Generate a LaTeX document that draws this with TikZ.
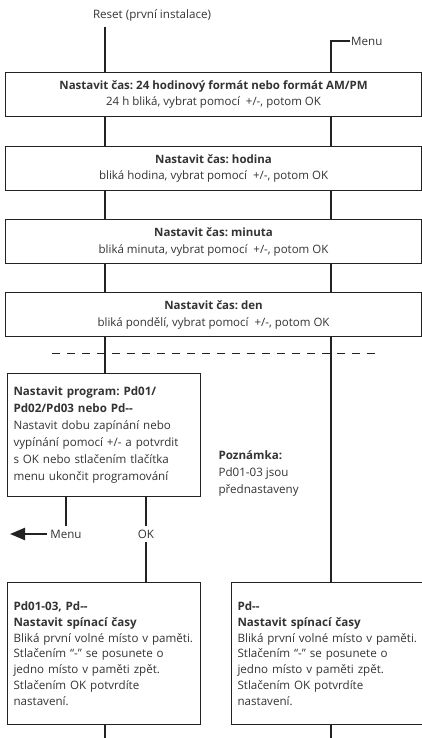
\documentclass[tikz,border=0pt]{standalone}
\usepackage{fontspec}
\setmainfont{Open Sans}
\usetikzlibrary{arrows.meta,positioning}
\definecolor{ink}{HTML}{333333}
\definecolor{wire}{HTML}{222222}

\begin{document}
\frenchspacing
\begin{tikzpicture}[x=1pt, y=-1pt,
  widebox/.style={draw=wire, line width=1.1pt, minimum width=416pt, minimum height=44pt,
    anchor=north west, align=center, text=ink, inner sep=0pt,
    font=\fontsize{11.5}{16.5}\selectfont},
  stepbox/.style={draw=wire, line width=1.1pt, minimum width=193pt, anchor=north west,
    align=left, text=ink, inner xsep=6pt, inner ysep=0pt, text width=181pt,
    font=\fontsize{11.6}{15.8}\selectfont},
  tag/.style={text=ink, font=\fontsize{11.6}{16}\selectfont},
  flow/.style={draw=wire, line width=2.3pt},
  exitarrow/.style={-{Triangle[length=15pt, width=12pt]}, draw=wire, line width=2.3pt}
]
\useasboundingbox (0,0) rectangle (422,738);
\coordinate (lx) at (105,0);
\coordinate (rx) at (331,0);

\node[tag] (reset) at (152,15) {Reset (první instalace)};
\node[tag, anchor=west, inner sep=1pt] (menu) at (350,41) {Menu};

\node[widebox] (box1) at (5,72) {\textbf{Nastavit čas: 24 hodinový formát nebo formát AM/PM}\\
  24 h bliká, vybrat pomocí \ +/-, potom OK};
\node[widebox, below=29pt of box1] (box2) {\textbf{Nastavit čas: hodina}\\
  bliká hodina, vybrat pomocí \ +/-, potom OK};
\node[widebox, below=28pt of box2] (box3) {\textbf{Nastavit čas: minuta}\\
  bliká minuta, vybrat pomocí \ +/-, potom OK};
\node[widebox, below=28pt of box3] (box4) {\textbf{Nastavit čas: den}\\
  bliká pondělí, vybrat pomocí \ +/-, potom OK};

\node[stepbox, minimum height=123pt, font=\fontsize{11.6}{17}\selectfont] (box5) at (7,373)
  {\textbf{Nastavit program: Pd01/}\\ \textbf{Pd02/Pd03 nebo Pd-{}-}\\
  Nastavit dobu zapínání nebo\\ vypínání pomocí +/- a potvrdit\\
  s OK nebo stlačením tlačítka\\ menu ukončit programování};
\node[tag, anchor=west, align=left, font=\fontsize{11.6}{17}\selectfont] (note) at (215,473)
  {\textbf{Poznámka:}\\ Pd01-03 jsou\\ přednastaveny};

\node[tag] (back) at (66,534) {Menu};
\node[tag] (ok) at (146,534) {OK};
\coordinate (exit) at (10,534);

\node[stepbox, minimum height=142pt] (box6) at (7,582)
  {\textbf{Pd01-03, Pd-{}-}\\ \textbf{Nastavit spínací časy}\\
  Bliká první volné místo v paměti.\\ Stlačením “-” se posunete o\\
  jedno místo v paměti zpět.\\ Stlačením OK potvrdíte\\ nastavení.};
\node[stepbox, minimum width=190pt, minimum height=142pt] (box7) at (231,582)
  {\textbf{Pd-{}-}\\ \textbf{Nastavit spínací časy}\\
  Bliká první volné místo v paměti.\\ Stlačením “-” se posunete o\\
  jedno místo v paměti zpět.\\ Stlačením OK potvrdíte\\ nastavení.};
\coordinate (endl) at (105,740);
\coordinate (endr) at (331,740);

\draw[flow] (reset.south -| lx) ++(0,3) -- (box1.north -| lx);
\draw[flow] (menu.west) -- (menu.west -| rx) -- (box1.north -| rx);
\foreach \a/\b in {box1/box2, box2/box3, box3/box4} {
  \draw[flow] (\a.south -| lx) -- (\b.north -| lx);
  \draw[flow] (\a.south -| rx) -- (\b.north -| rx);
}
\draw[wire, line width=1pt, dash pattern=on 8pt off 7pt] (52,353) -- (378,353);
\draw[flow] (box4.south -| lx) -- (box5.north -| lx);
\draw[flow] (box4.south -| rx) -- (box7.north -| rx);
\draw[flow] (box5.south -| back) -- (back.north);
\draw[exitarrow] (back.west) -- (exit);
\draw[flow] (box5.south -| ok) -- (ok.north);
\draw[flow] (ok.south) -- (box6.north -| ok);
\draw[flow] (box6.south -| lx) -- (endl);
\draw[flow] (box7.south -| rx) -- (endr);
\end{tikzpicture}
\end{document}
